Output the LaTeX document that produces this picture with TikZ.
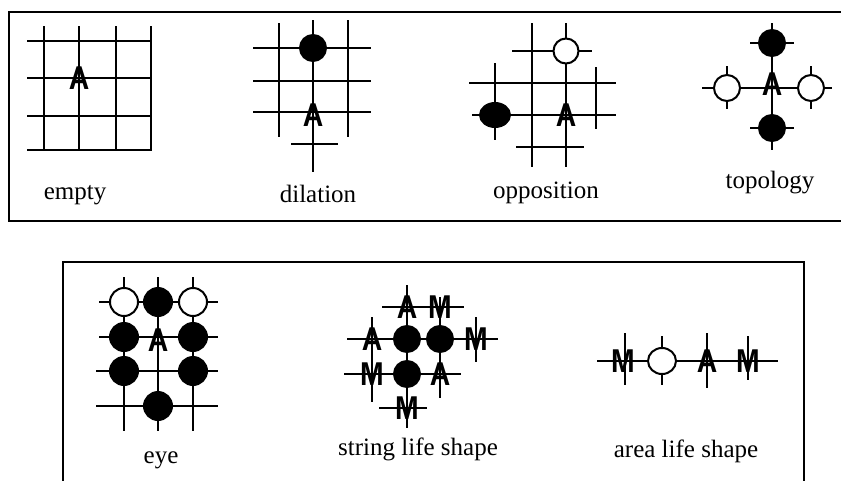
\documentclass[tikz,border=0pt]{standalone}
\usepackage{fontspec}
\setmainfont{Liberation Serif}
\newfontfamily\letterfont{Liberation Sans}
\usepackage{tikz}
\usetikzlibrary{calc}
\newcommand{\glyph}[1]{\scalebox{0.86}[1]{#1}}

\begin{document}
\begin{tikzpicture}[x=1pt,y=-1pt,line cap=butt,
    grid/.style={line width=2pt},
    frame/.style={line width=2.2pt},
    blackstone/.style={fill=black,draw=black,line width=2pt},
    whitestone/.style={fill=white,draw=black,line width=2pt},
    letter/.style={inner sep=0pt,font=\letterfont\bfseries\fontsize{33}{34}\selectfont},
    caption/.style={anchor=base,inner sep=0pt,font=\fontsize{25}{30}\selectfont}]
  \useasboundingbox (0,0) rectangle (841,480);
  % frames: upper one runs off the right edge, lower one off the bottom
  \draw[frame] (842,12) -- (9,12) -- (9,221) -- (842,221);
  \draw[frame] (63,481) -- (63,262) -- (804,262) -- (804,481);
  % empty
  \begin{scope}
    \foreach \x in {44,79,116,151}
      \draw[grid] (\x,26) -- (\x,151);
    \foreach \y in {41,78,116,150}
      \draw[grid] (27,\y) -- (151,\y);
    \node[letter] (ea) at (79,78) {\glyph{A}};
    \node[caption] (empty) at (75,199) {empty};
  \end{scope}
  % dilation
  \begin{scope}
    \draw[grid] (279,23) -- (279,137);
    \draw[grid] (313,20) -- (313,172);
    \draw[grid] (348,20) -- (348,137);
    \foreach \y in {48,81,112}
      \draw[grid] (253,\y) -- (371,\y);
    \draw[grid] (291,144) -- (338,144);
    \draw[blackstone] (313,48) circle (13);
    \node[letter] (da) at (313,115) {\glyph{A}};
    \node[caption] (dilation) at (318,202) {dilation};
  \end{scope}
  % opposition
  \begin{scope}
    \draw[grid] (532,23) -- (532,167);
    \draw[grid] (566,23) -- (566,167);
    \draw[grid] (495,63) -- (495,140);
    \draw[grid] (596,67) -- (596,129);
    \draw[grid] (512,51) -- (592,51);
    \draw[grid] (469,83) -- (616,83);
    \draw[grid] (472,115) -- (616,115);
    \draw[grid] (516,147) -- (584,147);
    \draw[whitestone] (566,51) circle (12.5);
    \draw[blackstone] (495,115) ellipse (15 and 12);
    \node[letter] (oa) at (566,115) {\glyph{A}};
    \node[caption] (opposition) at (546,198) {opposition};
  \end{scope}
  % topology
  \begin{scope}
    \draw[grid] (772,23) -- (772,150);
    \draw[grid] (702,88) -- (832,88);
    \foreach \y in {43,128}
      \draw[grid] (750,\y) -- (794,\y);
    \foreach \x in {727,811}
      \draw[grid] (\x,66) -- (\x,109);
    \foreach \y in {43,128}
      \draw[blackstone] (772,\y) circle (13);
    \foreach \x in {727,811}
      \draw[whitestone] (\x,88) circle (13);
    \node[letter] (ta) at (772,84) {\glyph{A}};
    \node[caption] (topology) at (770,188) {topology};
  \end{scope}
  % eye
  \begin{scope}
    \foreach \x in {124,158,193}
      \draw[grid] (\x,277) -- (\x,431);
    \foreach \y in {302,337}
      \draw[grid] (99,\y) -- (218,\y);
    \foreach \y in {371,406}
      \draw[grid] (96,\y) -- (218,\y);
    \foreach \x/\y in {124/302,193/302}
      \draw[whitestone] (\x,\y) circle (14);
    \foreach \x/\y in {158/302,124/337,193/337,124/371,193/371,158/406}
      \draw[blackstone] (\x,\y) circle (14);
    \node[letter] (ya) at (158,340) {\glyph{A}};
    \node[caption] (eye) at (161,463) {eye};
  \end{scope}
  % string life shape
  \begin{scope}
    \draw[grid] (407,285) -- (407,428);
    \draw[grid] (440,297) -- (440,398);
    \draw[grid] (372,317) -- (372,402);
    \draw[grid] (476,317) -- (476,362);
    \draw[grid] (382,307) -- (464,307);
    \draw[grid] (347,339) -- (498,339);
    \draw[grid] (344,374) -- (461,374);
    \draw[grid] (379,408) -- (427,408);
    \foreach \x/\y in {407/339,440/339,407/374}
      \draw[blackstone] (\x,\y) circle (13);
    \foreach \x/\y/\t [count=\i] in {407/307/A,440/307/M,372/339/A,476/339/M,372/374/M,440/374/A,407/408/M}
      \node[letter] (s\i) at (\x,\y) {\glyph{\t}};
    \node[caption] (string) at (418,455) {string life shape};
  \end{scope}
  % area life shape
  \begin{scope}
    \draw[grid] (597,361) -- (778,361);
    \draw[grid] (625,333) -- (625,385);
    \draw[grid] (662,336) -- (662,385);
    \draw[grid] (707,333) -- (707,388);
    \draw[grid] (748,336) -- (748,380);
    \draw[whitestone] (662,361) ellipse (14 and 13);
    \foreach \x/\t [count=\i] in {623/M,707/A,748/M}
      \node[letter] (a\i) at (\x,361) {\glyph{\t}};
    \node[caption] (area) at (686,457) {area life shape};
  \end{scope}
\end{tikzpicture}
\end{document}
